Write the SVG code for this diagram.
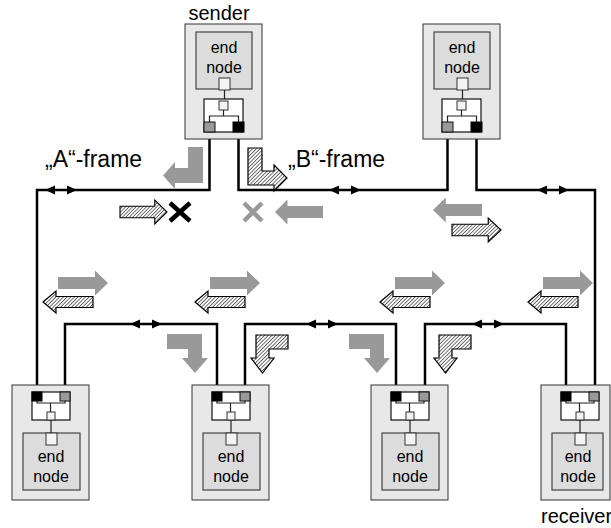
<svg xmlns="http://www.w3.org/2000/svg" width="611" height="528" viewBox="0 0 611 528">
<defs>
<style>
.outer{fill:#e8e8e8;stroke:#333;stroke-width:1}
.en{fill:#dcdcdc;stroke:#444;stroke-width:1.2}
.sq{fill:#f4f4f4;stroke:#333;stroke-width:1}
.br{fill:#fff;stroke:#111;stroke-width:1.2}
.thin{fill:none;stroke:#222;stroke-width:1.2}
.pg{fill:#999;stroke:#111;stroke-width:1}
.pb{fill:#000;stroke:#000;stroke-width:1}
.wire{fill:none;stroke:#000;stroke-width:2.5}
.ga{fill:#999;stroke:none}
.ha{fill:url(#hatch);stroke:#000;stroke-width:1.2}
.t{font-family:"Liberation Sans",Arial,sans-serif;fill:#000}
.tn{font-size:16px;text-anchor:middle}
</style>
<pattern id="hatch" width="2.6" height="2.6" patternUnits="userSpaceOnUse" patternTransform="rotate(45)">
<rect width="2.6" height="2.6" fill="#fff"/>
<line x1="0" y1="0" x2="0" y2="2.6" stroke="#222" stroke-width="1.3"/>
</pattern>
<path id="dbl" d="M-16,0 L-6,-4.5 L-6,4.5 Z M16,0 L6,-4.5 L6,4.5 Z" fill="#000"/>
<path id="arrR" d="M0,-6 H37 V-12.5 L50,0 L37,12.5 V6 H0 Z"/>
<path id="arrL" d="M0,0 L13,-11 V-5.5 H50 V5.5 H13 V11 Z"/>
<g id="topnode">
<rect class="outer" x="0" y="0" width="77" height="115"/>
<rect class="en" x="11" y="8" width="56" height="57"/>
<rect class="sq" x="34" y="54" width="11" height="12"/>
<line class="thin" x1="39.5" y1="66" x2="39.5" y2="77"/>
<rect class="br" x="19" y="75" width="39" height="33"/>
<rect class="sq" x="34" y="77" width="9" height="9"/>
<path class="thin" d="M38.5,86 V92 M24.5,98 V92 H53.5 V98"/>
<rect class="pg" x="19" y="98" width="11" height="10"/>
<rect class="pb" x="48" y="98" width="11" height="10"/>
</g>
<g id="botnode">
<rect class="outer" x="0" y="0" width="77" height="115"/>
<rect class="br" x="20" y="7" width="38" height="28"/>
<path class="thin" d="M25,16 V18 H53 V16 M38.5,18 V27"/>
<rect class="sq" x="35" y="27" width="8" height="8"/>
<line class="thin" x1="39" y1="35" x2="39" y2="48"/>
<rect class="pb" x="20" y="7" width="10" height="9"/>
<rect class="pg" x="48" y="7" width="10" height="9"/>
<rect class="en" x="11" y="48" width="57" height="57"/>
<rect class="sq" x="34" y="48" width="11" height="12"/>
</g>
</defs>

<g id="connectors">
<path class="wire" d="M209.5,132 V190 H37 V392"/>
<path class="wire" d="M238.5,132 V190 H447.5 V132"/>
<path class="wire" d="M476.5,132 V190 H595 V392"/>
<path class="wire" d="M65,392 V324 H217 V392"/>
<path class="wire" d="M245,392 V324 H396 V392"/>
<path class="wire" d="M425,392 V324 H566 V392"/>
<use href="#dbl" x="61" y="190"/>
<use href="#dbl" x="345" y="190"/>
<use href="#dbl" x="553" y="190"/>
<use href="#dbl" x="146" y="324"/>
<use href="#dbl" x="322" y="324"/>
<use href="#dbl" x="488" y="324"/>
</g>

<g id="sender">
<use href="#topnode" x="185" y="24"/>
<text class="t tn" x="224" y="53">end</text>
<text class="t tn" x="224" y="73">node</text>
<text class="t" x="219" y="20" font-size="20" text-anchor="middle">sender</text>
</g>
<g id="node-top-right">
<use href="#topnode" x="423" y="24"/>
<text class="t tn" x="462" y="53">end</text>
<text class="t tn" x="462" y="73">node</text>
</g>
<g id="node-bottom-1">
<use href="#botnode" x="12" y="385"/>
<text class="t tn" x="51" y="462">end</text>
<text class="t tn" x="51" y="482">node</text>
</g>
<g id="node-bottom-2">
<use href="#botnode" x="192" y="385"/>
<text class="t tn" x="231" y="462">end</text>
<text class="t tn" x="231" y="482">node</text>
</g>
<g id="node-bottom-3">
<use href="#botnode" x="371" y="385"/>
<text class="t tn" x="410" y="462">end</text>
<text class="t tn" x="410" y="482">node</text>
</g>
<g id="receiver">
<rect class="outer" x="541" y="385" width="69" height="115"/>
<rect class="br" x="561" y="392" width="38" height="28"/>
<path class="thin" d="M566,401 V403 H594 V401 M579.5,403 V412"/>
<rect class="sq" x="576" y="412" width="8" height="8"/>
<line class="thin" x1="580" y1="420" x2="580" y2="433"/>
<rect class="pb" x="561" y="392" width="10" height="9"/>
<rect class="pg" x="589" y="392" width="10" height="9"/>
<rect class="en" x="552" y="433" width="51" height="57"/>
<rect class="sq" x="575" y="433" width="11" height="12"/>
<text class="t tn" x="578" y="462">end</text>
<text class="t tn" x="578" y="482">node</text>
<text class="t" x="541" y="523" font-size="20">receiver</text>
</g>

<g id="labels">
<text class="t" x="45" y="167" font-size="23">„A“-frame</text>
<text class="t" x="288" y="167" font-size="23">„B“-frame</text>
</g>

<g id="frame-arrows">
<path class="ga" d="M188,147 H203 V183 H175 V189 L163,175.5 L175,162 V168 H188 Z"/>
<path class="ha" d="M248,148 H262 V171 H274 V165 L287,178 L274,191 V185 H248 Z"/>
<use href="#arrR" class="ha" transform="translate(120,212) scale(0.94,0.95)"/>
<path d="M170,203 L190,221 M190,203 L170,221" stroke="#000" stroke-width="4.5" fill="none"/>
<path d="M244,203 L262,221 M262,203 L244,221" stroke="#999" stroke-width="4.5" fill="none"/>
<use href="#arrR" class="ga" transform="translate(323,212) scale(-0.96,1)"/>
<use href="#arrR" class="ga" transform="translate(482,210) scale(-0.98,1)"/>
<use href="#arrR" class="ha" transform="translate(452,230) scale(0.98,0.95)"/>
<use href="#arrR" class="ga" transform="translate(58,283)"/>
<use href="#arrR" class="ga" transform="translate(210,283)"/>
<use href="#arrR" class="ga" transform="translate(395,283)"/>
<use href="#arrR" class="ga" transform="translate(543,283)"/>
<use href="#arrL" class="ha" transform="translate(43,302)"/>
<use href="#arrL" class="ha" transform="translate(195,302)"/>
<use href="#arrL" class="ha" transform="translate(380,302)"/>
<use href="#arrL" class="ha" transform="translate(528,302)"/>
<path class="ga" d="M167,334 H202 V358 H208 L195,373 L182,358 H188 V349 H167 Z"/>
<path class="ga" d="M349,334 H384 V358 H390 L377,373 L364,358 H370 V349 H349 Z"/>
<path class="ha" d="M256,335 H288 V349 H269 V358 H274 L262.5,373 L251,358 H256 Z"/>
<path class="ha" d="M439,335 H471 V349 H452 V358 H457 L445.5,373 L434,358 H439 Z"/>
</g>
</svg>
